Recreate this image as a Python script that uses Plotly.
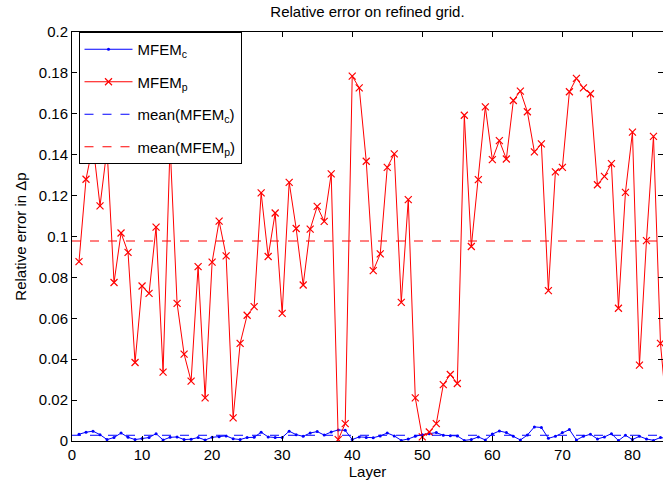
import plotly.graph_objects as go

layers = list(range(1, 86))

mfem_p = [0.0877, 0.128, 0.145, 0.115, 0.143, 0.0775, 0.1017, 0.0922, 0.0384, 0.0758,
          0.0722, 0.1046, 0.0337, 0.145, 0.0673, 0.0425, 0.0293, 0.0853, 0.0211, 0.0875,
          0.1075, 0.0905, 0.0113, 0.0477, 0.0615, 0.0657, 0.1213, 0.0902, 0.1115, 0.0624,
          0.1265, 0.1039, 0.0763, 0.1036, 0.1147, 0.1074, 0.1306, 0.0007, 0.0085, 0.1784,
          0.1727, 0.1368, 0.0833, 0.0915, 0.1338, 0.1404, 0.0678, 0.1180, 0.0211, 0.0020,
          0.0044, 0.0085, 0.0276, 0.0325, 0.0281, 0.1593, 0.0951, 0.1278, 0.1634, 0.1376,
          0.1469, 0.1379, 0.1665, 0.1711, 0.1610, 0.1414, 0.1453, 0.0735, 0.1316, 0.1338,
          0.1708, 0.1773, 0.1727, 0.1698, 0.1253, 0.1294, 0.1356, 0.0649, 0.1216, 0.1510,
          0.0371, 0.0980, 0.1490, 0.0477, 0.0100]

mfem_c = [0.0033, 0.0043, 0.0048, 0.0031, 0.0007, 0.0017, 0.0039, 0.0018, 0.0007, 0.0012,
          0.0017, 0.0036, 0.0005, 0.0018, 0.0020, 0.0007, 0.0009, 0.0017, 0.0005, 0.0018,
          0.0021, 0.0025, 0.0011, 0.0007, 0.0017, 0.0018, 0.0043, 0.0020, 0.0017, 0.0017,
          0.0048, 0.0031, 0.0023, 0.0039, 0.0046, 0.0029, 0.0044, 0.0054, 0.0052, 0.0007,
          0.0020, 0.0017, 0.0016, 0.0025, 0.0039, 0.0025, 0.0003, 0.0010, 0.0023, 0.0031,
          0.0036, 0.0041, 0.0028, 0.0026, 0.0025, 0.0003, 0.0007, 0.0020, 0.0005, 0.0034,
          0.0049, 0.0041, 0.0023, 0.0005, 0.0029, 0.0069, 0.0066, 0.0013, 0.0023, 0.0041,
          0.0056, 0.0005, 0.0023, 0.0033, 0.0010, 0.0020, 0.0036, 0.0002, 0.0028, 0.0007,
          0.0023, 0.0010, 0.0003, 0.0017, 0.0012]

mean_c = 0.0028
mean_p = 0.0978

x_ticks = [0, 10, 20, 30, 40, 50, 60, 70, 80]
y_ticks = [0, 0.02, 0.04, 0.06, 0.08, 0.1, 0.12, 0.14, 0.16, 0.18, 0.2]
y_tick_labels = ["0", "0.02", "0.04", "0.06", "0.08", "0.1", "0.12", "0.14", "0.16", "0.18", "0.2"]

font = "Liberation Sans, Arial, sans-serif"
FS = 15

fig = go.Figure()
fig.add_trace(go.Scatter(
    x=layers, y=mfem_c, mode="lines+markers", name="MFEM<sub>c</sub>", legendgroup="a",
    line=dict(color="#0000ff", width=1),
    marker=dict(symbol="circle", size=3, color="#0000ff"),
))
fig.add_trace(go.Scatter(
    x=layers, y=mfem_p, mode="lines+markers", name="MFEM<sub>p</sub>", legendgroup="b",
    line=dict(color="#ff0000", width=1),
    marker=dict(symbol="x-thin", size=7, color="#ff0000", line=dict(color="#ff0000", width=1.2)),
))
fig.add_trace(go.Scatter(
    x=[0, 86], y=[mean_c, mean_c], mode="lines", name="mean(MFEM<sub>c</sub>)", legendgroup="c",
    line=dict(color="#0000ff", width=1, dash="dash"),
))
fig.add_trace(go.Scatter(
    x=[0, 86], y=[mean_p, mean_p], mode="lines", name="mean(MFEM<sub>p</sub>)", legendgroup="d",
    line=dict(color="#ff0000", width=1, dash="dash"),
))

axis_common = dict(
    showline=True, linecolor="black", linewidth=1, mirror="ticks",
    ticks="inside", ticklen=5, tickcolor="black", showgrid=False, zeroline=False,
    automargin=False,
    tickfont=dict(family=font, size=FS, color="black"),
)

fig.update_layout(
    width=663, height=484,
    margin=dict(l=72, r=0, t=32, b=43),
    paper_bgcolor="white", plot_bgcolor="white",
    title=dict(text="Relative error on refined grid.", x=0.5, xanchor="center", xref="paper",
               y=1, yanchor="top", pad=dict(t=6),
               font=dict(family=font, size=FS, color="black")),
    xaxis=dict(range=[0, 84.36], tickvals=x_ticks,
               title=dict(text="Layer", font=dict(family=font, size=FS, color="black"), standoff=2),
               **axis_common),
    yaxis=dict(range=[0, 0.2], tickvals=y_ticks, ticktext=y_tick_labels,
               title=dict(text="Relative error in Δp", font=dict(family=font, size=FS, color="black"), standoff=8),
               **axis_common),
    legend=dict(x=0.011, y=1, xanchor="left", yanchor="top",
                bgcolor="white", bordercolor="black", borderwidth=1,
                font=dict(family=font, size=FS, color="black"),
                tracegroupgap=10, itemwidth=48),
    showlegend=True,
)

fig.write_html("out.html", config={"displayModeBar": False},
               post_script="document.body.style.margin='0';document.body.style.overflow='hidden';")
